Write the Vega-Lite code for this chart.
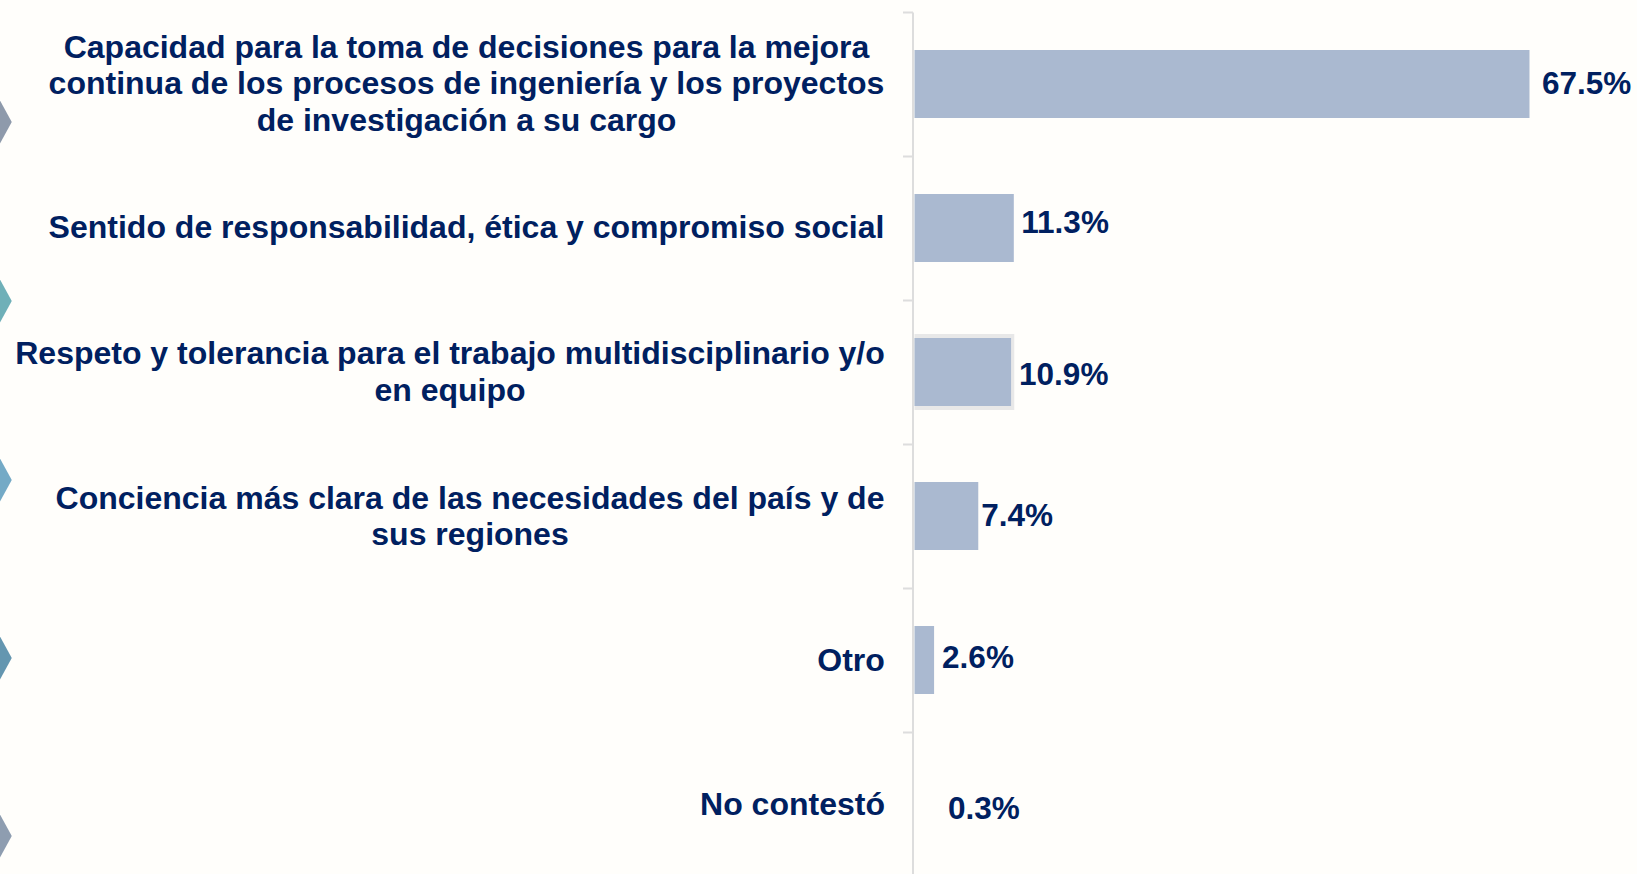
{"$schema":"https://vega.github.io/schema/vega-lite/v6.json","width":724.5,"height":862,"autosize":{"type":"none"},"padding":{"left":912.5,"top":12,"right":0,"bottom":0},"background":"#FFFEFB","config":{"view":{"stroke":null},"text":{"font":"Liberation Sans","fontWeight":"bold","fontSize":31.5,"color":"#002060","align":"left","baseline":"middle"}},"datasets":{"filas":[{"categoria":"Capacidad para la toma de decisiones para la mejora\ncontinua de los procesos de ingeniería y los proyectos\nde investigación a su cargo","largo":67.5,"marco":67.5,"etiqueta":"67.5%"},{"categoria":"Sentido de responsabilidad, ética y compromiso social","largo":10.9,"marco":10.9,"etiqueta":"11.3%"},{"categoria":"Respeto y tolerancia para el trabajo multidisciplinario y/o\nen equipo","largo":10.6,"marco":10.95,"etiqueta":"10.9%"},{"categoria":"Conciencia más clara de las necesidades del país y de\nsus regiones","largo":7.0,"marco":7.0,"etiqueta":"7.4%"},{"categoria":"Otro","largo":2.15,"marco":2.15,"etiqueta":"2.6%"},{"categoria":"No contestó","largo":0,"marco":0,"etiqueta":"0.3%"}],"flechas":[{"tono":"a","pos":110},{"tono":"b","pos":289},{"tono":"c","pos":468},{"tono":"d","pos":646},{"tono":"e","pos":824}]},"layer":[{"data":{"name":"filas"},"encoding":{"y":{"field":"categoria","type":"nominal","sort":null,"scale":{"domain":["Capacidad para la toma de decisiones para la mejora\ncontinua de los procesos de ingeniería y los proyectos\nde investigación a su cargo","Sentido de responsabilidad, ética y compromiso social","Respeto y tolerancia para el trabajo multidisciplinario y/o\nen equipo","Conciencia más clara de las necesidades del país y de\nsus regiones","Otro","No contestó"],"range":[0,864],"paddingInner":0,"paddingOuter":0},"axis":{"title":null,"orient":"left","domainColor":"#DDDDDD","domainWidth":2,"tickColor":"#DDDDDD","tickWidth":2,"tickSize":10,"tickBand":"extent","labels":false}},"x":{"field":"largo","type":"quantitative","title":null,"scale":{"domain":[0,79.3],"range":[2,724.5],"nice":false,"zero":true},"axis":null}},"layer":[{"transform":[{"filter":"datum.etiqueta==='10.9%'"}],"mark":{"type":"bar","size":76,"color":"#E8E8E8"},"encoding":{"x":{"field":"marco","type":"quantitative"}}},{"mark":{"type":"bar","size":68,"color":"#AAB9D0"}},{"transform":[{"filter":"datum.etiqueta==='67.5%'"}],"mark":{"type":"text","dx":12.5,"dy":0.5},"encoding":{"text":{"field":"etiqueta"}}},{"transform":[{"filter":"datum.etiqueta==='11.3%'"}],"mark":{"type":"text","dx":7.5,"dy":-4},"encoding":{"text":{"field":"etiqueta"}}},{"transform":[{"filter":"datum.etiqueta==='10.9%'"}],"mark":{"type":"text","dx":8,"dy":4},"encoding":{"text":{"field":"etiqueta"}}},{"transform":[{"filter":"datum.etiqueta==='7.4%'"}],"mark":{"type":"text","dx":3,"dy":1},"encoding":{"text":{"field":"etiqueta"}}},{"transform":[{"filter":"datum.etiqueta==='2.6%'"}],"mark":{"type":"text","dx":8,"dy":-1},"encoding":{"text":{"field":"etiqueta"}}},{"transform":[{"filter":"datum.etiqueta==='0.3%'"}],"mark":{"type":"text","dx":33.5,"dy":6},"encoding":{"text":{"field":"etiqueta"}}},{"transform":[{"filter":"datum.etiqueta==='67.5%'"}],"mark":{"type":"text","align":"center","fontSize":32,"lineBreak":"\n","lineHeight":36.5,"dx":-448,"dy":-36.5},"encoding":{"x":{"datum":0},"text":{"field":"categoria"}}},{"transform":[{"filter":"datum.etiqueta==='11.3%'"}],"mark":{"type":"text","align":"center","fontSize":32,"lineBreak":"\n","lineHeight":36.5,"dx":-448,"dy":0},"encoding":{"x":{"datum":0},"text":{"field":"categoria"}}},{"transform":[{"filter":"datum.etiqueta==='10.9%'"}],"mark":{"type":"text","align":"center","fontSize":32,"lineBreak":"\n","lineHeight":36.5,"dx":-464.5,"dy":-18},"encoding":{"x":{"datum":0},"text":{"field":"categoria"}}},{"transform":[{"filter":"datum.etiqueta==='7.4%'"}],"mark":{"type":"text","align":"center","fontSize":32,"lineBreak":"\n","lineHeight":36.5,"dx":-444.5,"dy":-17.5},"encoding":{"x":{"datum":0},"text":{"field":"categoria"}}},{"transform":[{"filter":"datum.etiqueta==='2.6%'"}],"mark":{"type":"text","align":"center","fontSize":32,"lineBreak":"\n","lineHeight":36.5,"dx":-63.5,"dy":1},"encoding":{"x":{"datum":0},"text":{"field":"categoria"}}},{"transform":[{"filter":"datum.etiqueta==='0.3%'"}],"mark":{"type":"text","align":"center","fontSize":32,"lineBreak":"\n","lineHeight":36.5,"dx":-122,"dy":1},"encoding":{"x":{"datum":0},"text":{"field":"categoria"}}}]},{"data":{"name":"flechas"},"mark":{"type":"point","filled":true,"opacity":1,"size":2304,"shape":"M-0.5,-1.83L0.5,0L-0.5,1.83Z","clip":false},"encoding":{"x":{"datum":-100.4},"y":{"field":"pos","type":"quantitative","axis":null,"scale":{"domain":[0,862],"range":[0,862],"nice":false,"zero":false}},"color":{"field":"tono","type":"nominal","legend":null,"scale":{"domain":["a","b","c","d","e"],"range":["#8E9AAB","#6FB0B8","#74AAC6","#6496B0","#8E9DB0"]}}}}],"resolve":{"scale":{"y":"independent"}}}
